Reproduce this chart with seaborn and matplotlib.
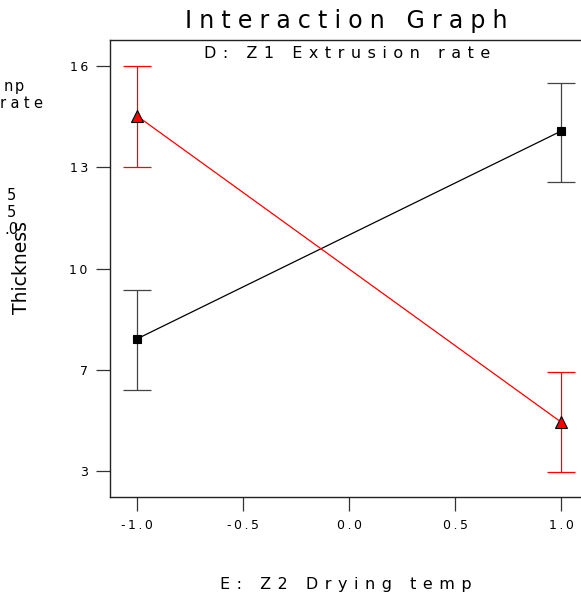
"""Interaction graph: thickness vs drying temp, split by extrusion rate."""
import matplotlib
matplotlib.use("Agg")
import matplotlib.pyplot as plt
import numpy as np
import pandas as pd
import seaborn as sns

# factor levels on the x axis (E: Z2 Drying temp)
x_levels = [-1.0, 1.0]
# D: Z1 Extrusion rate groups
groups = ["D-", "D+"]
# predicted means and interval ends
means_low = [7.24, 13.91]    # D- (black squares)
upper_low = [8.81, 15.45]
lower_low = [5.60, 12.28]
means_high = [14.40, 4.57]   # D+ (red triangles)
upper_high = [16.00, 6.18]
lower_high = [12.76, 2.97]

x_ticks = [-1.0, -0.5, 0.0, 0.5, 1.0]
x_tick_labels = ["-1.0", "-0.5", "0.0", "0.5", "1.0"]
y_ticks = [3.0, 6.25, 9.5, 12.75, 16.0]
y_tick_labels = ["3", "7", "10", "13", "16"]

COLORS = {"D-": "black", "D+": "red"}
THIN = "\u2009"
HAIR = "\u200a"


def spaced(s, sep=THIN):
    return sep.join(s)


df = pd.DataFrame({
    "x": x_levels * 2,
    "y": means_low + means_high,
    "lo": lower_low + lower_high,
    "hi": upper_low + upper_high,
    "group": [groups[0]] * 2 + [groups[1]] * 2,
})

sns.set_style("white")
plt.rcParams.update({
    "font.family": ["DejaVu Sans"],
    "text.color": "black",
    "xtick.labelcolor": "black",
    "ytick.labelcolor": "black",
})

W, H = 581, 597
fig = plt.figure(figsize=(W / 100, H / 100), dpi=100)
# axes runs past the right edge, as in the reference
left, right, top, bottom = 110, 588, 40, 497
ax = fig.add_axes([left / W, 1 - bottom / H, (right - left) / W, (bottom - top) / H])

for g, sub in df.groupby("group"):
    ax.errorbar(sub["x"], sub["y"],
                yerr=[sub["y"] - sub["lo"], sub["hi"] - sub["y"]],
                fmt="none", ecolor=COLORS[g] if g == "D+" else "#444444",
                elinewidth=0.9, capsize=10, capthick=0.9, zorder=2)

sns.lineplot(data=df, x="x", y="y", hue="group", style="group",
             palette=COLORS, markers={"D-": "s", "D+": "^"}, dashes=False,
             linewidth=0.9, markersize=8, markeredgecolor="black",
             markeredgewidth=0.8, legend=False, ax=ax, zorder=3)
# square a touch smaller than the triangle
for line in ax.lines:
    if line.get_marker() == "s":
        line.set_markersize(6)

ax.set_xlim(-1.127, 1.127)
ax.set_ylim(2.165, 16.835)
ax.set_xticks(x_ticks)
ax.set_xticklabels([spaced(t) for t in x_tick_labels])
ax.set_yticks(y_ticks)
ax.set_yticklabels([spaced(t) for t in y_tick_labels])
ax.tick_params(axis="both", direction="out", length=10, width=0.9,
               color="#333333", labelsize=9, pad=6, left=True, bottom=True)
for sp in ax.spines.values():
    sp.set_color("#222222")
    sp.set_linewidth(1.0)
ax.set_xlabel("")
ax.set_ylabel("")

fig.text(346 / W, 1 - 21 / H, spaced("Interaction Graph", THIN + HAIR),
         fontsize=17, ha="center", va="center")
fig.text(347 / W, 1 - 53 / H, spaced("D: Z1 Extrusion rate", THIN + THIN),
         fontsize=11.5, ha="center", va="center")
fig.text(346 / W, 1 - 585 / H, spaced("E: Z2 Drying temp", THIN + THIN),
         fontsize=11.5, ha="center", va="center")
fig.text(22 / W, 1 - 268 / H, "Thickness", fontsize=13.5, rotation=90,
         ha="center", va="center")

# legend fragments cut off at the left edge of the original
frag = dict(fontsize=10.5, ha="right", va="center")
fig.text(24 / W, 1 - 87 / H, spaced("np", HAIR), **frag)
fig.text(43 / W, 1 - 104 / H, spaced("rate", THIN + HAIR), **frag)
fig.text(16 / W, 1 - 195 / H, "5", **frag)
fig.text(16 / W, 1 - 212 / H, "5", **frag)
fig.text(19 / W, 1 - 230 / H, ".0", **frag)

fig.savefig("out.png", dpi=100)
